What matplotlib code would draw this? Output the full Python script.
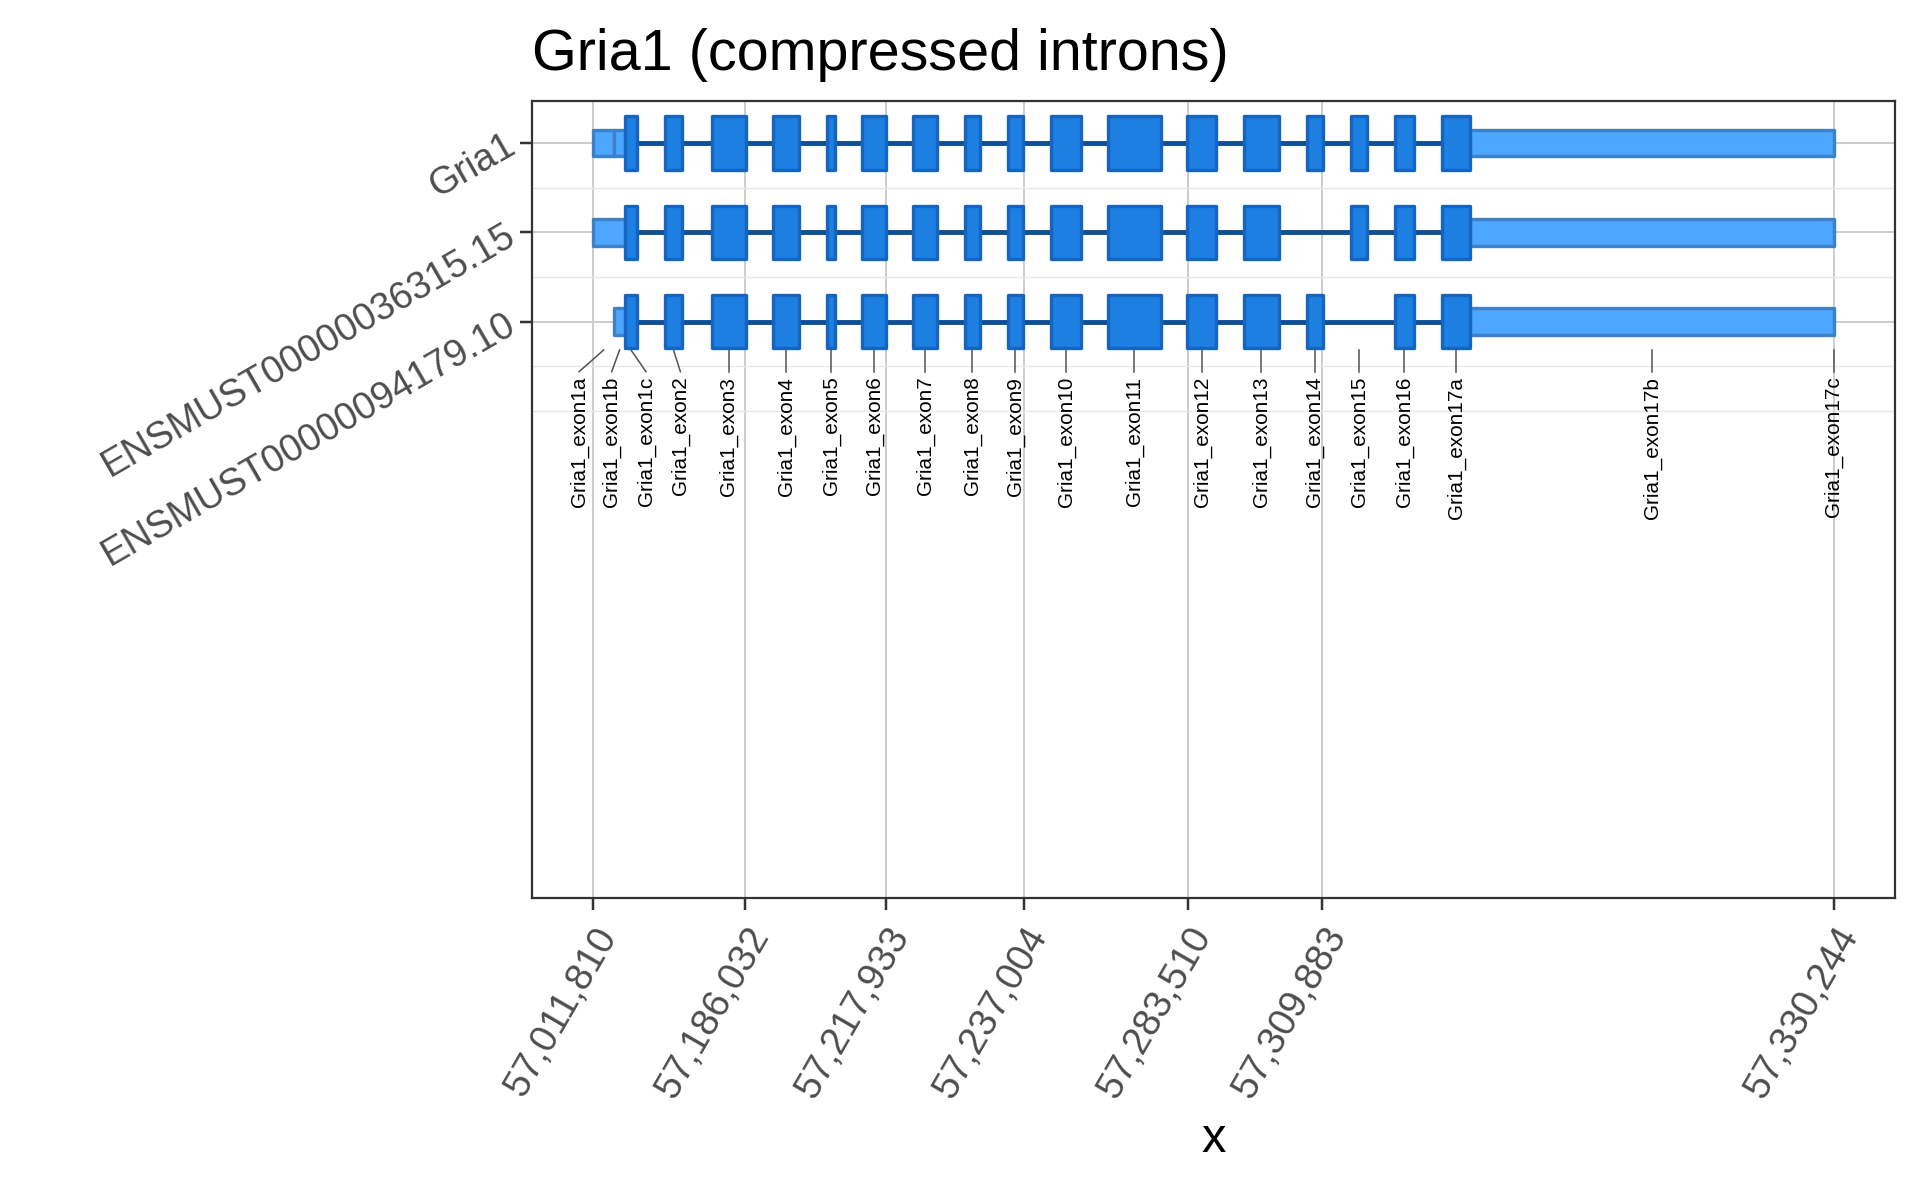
import matplotlib
matplotlib.use("Agg")
import matplotlib.pyplot as plt
from matplotlib.patches import Rectangle

plt.rcParams['font.family'] = ['Liberation Sans', 'DejaVu Sans']

# ---------------- data (compressed-intron coordinates) ----------------
exon_names = ["Gria1_exon1a", "Gria1_exon1b", "Gria1_exon1c", "Gria1_exon2", "Gria1_exon3",
              "Gria1_exon4", "Gria1_exon5", "Gria1_exon6", "Gria1_exon7", "Gria1_exon8",
              "Gria1_exon9", "Gria1_exon10", "Gria1_exon11", "Gria1_exon12", "Gria1_exon13",
              "Gria1_exon14", "Gria1_exon15", "Gria1_exon16", "Gria1_exon17a", "Gria1_exon17b",
              "Gria1_exon17c"]
exon_start = [0.0, 20.7, 31.8, 71.3, 118.3, 179.8, 233.8, 269.1, 320.0, 371.8, 414.2,
              457.9, 514.6, 594.1, 650.7, 713.3, 757.3, 801.6, 848.5, 877.0, 1240.4]
exon_end = [20.7, 31.8, 43.6, 89.1, 152.5, 206.1, 242.1, 292.7, 344.0, 386.4, 430.1,
            487.3, 567.7, 623.1, 685.5, 729.7, 773.9, 820.7, 877.0, 1240.4, 1240.7]
# label x positions after repelling (None = straight below the exon)
label_x = [-14.2, 18.4, 52.7, 87.1] + [None] * 17

transcripts = ["Gria1", "ENSMUST00000036315.15", "ENSMUST00000094179.10"]
transcript_y = [3, 2, 1]

# UTR segments per transcript
utr_segments = {
    "Gria1": [(0.0, 20.7), (20.7, 31.8), (877.0, 1240.7)],
    "ENSMUST00000036315.15": [(0.0, 31.8), (877.0, 1240.7)],
    "ENSMUST00000094179.10": [(20.7, 31.8), (877.0, 1240.7)],
}
coding_all = ["Gria1_exon1c", "Gria1_exon2", "Gria1_exon3", "Gria1_exon4", "Gria1_exon5",
              "Gria1_exon6", "Gria1_exon7", "Gria1_exon8", "Gria1_exon9", "Gria1_exon10",
              "Gria1_exon11", "Gria1_exon12", "Gria1_exon13", "Gria1_exon14", "Gria1_exon15",
              "Gria1_exon16", "Gria1_exon17a"]
cds_exons = {
    "Gria1": coding_all,
    "ENSMUST00000036315.15": [e for e in coding_all if e != "Gria1_exon14"],
    "ENSMUST00000094179.10": [e for e in coding_all if e != "Gria1_exon15"],
}

tick_pos = [0.0, 151.9, 292.6, 430.3, 594.5, 729.1, 1240.7]
tick_labels = ["57,011,810", "57,186,032", "57,217,933", "57,237,004",
               "57,283,510", "57,309,883", "57,330,244"]

title = "Gria1 (compressed introns)"

# ---------------- styles ----------------
CDS_FILL = "#1e7fe2"
CDS_EDGE = "#1565c0"
UTR_FILL = "#4da6ff"
UTR_EDGE = "#3d82c8"
INTRON = "#0f4f94"
CDS_H = 0.30
UTR_H = 0.15

fig = plt.figure(figsize=(6, 3.70625), dpi=320)
ax = fig.add_axes([532 / 1920, 1 - 898.3 / 1186, (1894.7 - 532) / 1920, (898.3 - 101) / 1186])

name_idx = {n: i for i, n in enumerate(exon_names)}

for tname, ty in zip(transcripts, transcript_y):
    first_cds = exon_start[name_idx[cds_exons[tname][0]]]
    last_cds = exon_end[name_idx[cds_exons[tname][-1]]]
    ax.plot([first_cds, last_cds], [ty, ty], color=INTRON, lw=1.1, zorder=2,
            solid_capstyle='butt')
    for s, e in utr_segments[tname]:
        ax.add_patch(Rectangle((s, ty - UTR_H), e - s, 2 * UTR_H, facecolor=UTR_FILL,
                               edgecolor=UTR_EDGE, lw=0.75, joinstyle='round', zorder=3))
    for en in cds_exons[tname]:
        i = name_idx[en]
        s, e = exon_start[i], exon_end[i]
        ax.add_patch(Rectangle((s, ty - CDS_H), e - s, 2 * CDS_H, facecolor=CDS_FILL,
                               edgecolor=CDS_EDGE, lw=0.75, joinstyle='round', zorder=4))

# exon labels
seg_top, seg_bot, text_top = 0.683, 0.44, 0.384
for i, n in enumerate(exon_names):
    mid = (exon_start[i] + exon_end[i]) / 2
    lx = label_x[i] if label_x[i] is not None else mid
    ax.plot([mid, lx], [seg_top, seg_bot], color="#555555", lw=0.35, zorder=5)
    ax.text(lx, text_top, n, rotation=90, ha='center', va='top', fontsize=4.66,
            color='black', zorder=6)

ax.set_xlim(-61.3, 1301.4)
ax.set_ylim(-5.457, 3.471)

ax.set_xticks(tick_pos)
ax.set_xticklabels(tick_labels, rotation=60, ha='right', va='top', rotation_mode='anchor')
ax.set_yticks(transcript_y)
ax.set_yticklabels(transcripts, rotation=30, ha='right', va='center', rotation_mode='anchor')
ax.set_yticks([2.5, 1.5, 0.5, 0.0], minor=True)
ax.tick_params(axis='both', which='major', labelsize=8.6, labelcolor='#4d4d4d',
               color='#333333', width=0.56, length=2.75)
ax.tick_params(axis='x', which='major', pad=2.4)
ax.tick_params(axis='y', which='major', pad=1.6, labelsize=8.55)
ax.tick_params(axis='y', which='minor', length=0)

ax.grid(True, which='major', color='#cdcdcd', lw=0.45, zorder=0)
ax.grid(True, which='minor', axis='y', color='#e8e8e8', lw=0.3, zorder=0)
ax.set_axisbelow(True)

for sp in ax.spines.values():
    sp.set_color('#333333')
    sp.set_linewidth(0.5)

ax.set_xlabel("x", fontsize=11, color='black')
ax.xaxis.label.set_va('baseline')
ax.xaxis.set_label_coords(0.5, (898.3 - 1152) / (898.3 - 101))

ax.set_title(title, loc='left', fontsize=12.95, color='black', pad=7.0)

fig.savefig("out.png", dpi=320)
